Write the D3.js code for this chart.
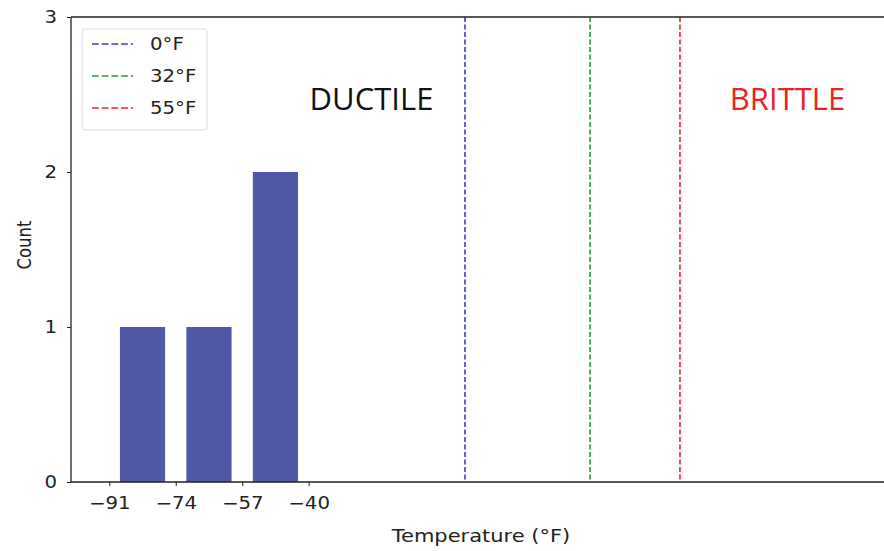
<!DOCTYPE html>
<html><head><meta charset="utf-8">
<script src="https://cdn.jsdelivr.net/npm/d3@7"></script>
<style>body{margin:0;background:#fff}svg{display:block}</style>
</head><body><svg id="c" width="884" height="551"></svg>
<script>
const binStarts = [-91, -74, -57];
const binWidth = 17;
const counts = [1, 1, 2];
const xTicks = [-91, -74, -57, -40];
const yTicks = [0, 1, 2, 3];
const refTemps = [0, 32, 55];
const refLabels = ["0°F", "32°F", "55°F"];
const refColors = ["#3b3bd6", "#2a9a2a", "#e8242f"];

const svg = d3.select("#c");
const L = 71, T = 17, B = 482;
const SX = 1.16, FS = 17;
const x = d3.scaleLinear().domain([-100.8, 0]).range([L, 465]);
const y = d3.scaleLinear().domain([0, 3]).range([B, T]);
const font = "DejaVu Sans, sans-serif";

// bars
const rw = 0.68;
svg.append("g").selectAll("rect").data(counts).join("rect")
  .attr("x", (d,i) => x(binStarts[i] + binWidth*(1-rw)/2))
  .attr("width", (d,i) => x(binStarts[i] + binWidth*(1+rw)/2) - x(binStarts[i] + binWidth*(1-rw)/2))
  .attr("y", d => y(d)).attr("height", d => y(0) - y(d))
  .attr("fill", "#5058a8");

// ref lines
svg.append("g").selectAll("line").data(refTemps).join("line")
  .attr("x1", d => x(d)).attr("x2", d => x(d))
  .attr("y1", T).attr("y2", B)
  .attr("stroke", (d,i) => refColors[i]).attr("stroke-width", 1.6)
  .attr("stroke-dasharray", "5,2.5");

// axes
const xa = svg.append("g").attr("transform", `translate(0,${B})`)
  .call(d3.axisBottom(x).tickValues(xTicks).tickFormat(d => d < 0 ? "\u2212" + Math.abs(d) : d).tickSize(4).tickPadding(11));
xa.select(".domain").attr("d", `M${L},0H900`).attr("stroke", "#222").attr("stroke-width", 1.3);
xa.selectAll(".tick text").attr("transform", `scale(${SX},1)`);
const ya = svg.append("g").attr("transform", `translate(${L},0)`)
  .call(d3.axisLeft(y).tickValues(yTicks).tickFormat(d3.format("d")).tickSize(4).tickPadding(6));
ya.select(".domain").attr("d", `M0,${B}V${T}`).attr("stroke", "#222").attr("stroke-width", 1.3);
ya.selectAll(".tick text").attr("x", -14 / SX).attr("transform", `scale(${SX},1)`);
svg.selectAll(".tick text").attr("font-family", font).attr("font-size", FS).attr("fill", "#222");
svg.selectAll(".tick line").attr("stroke", "#222");
// top border
svg.append("line").attr("x1", L).attr("x2", 900).attr("y1", T).attr("y2", T)
  .attr("stroke", "#222").attr("stroke-width", 1.3);

// axis labels
svg.append("text").attr("transform", `translate(481,542) scale(1.2,1)`).attr("text-anchor", "middle")
  .attr("font-family", font).attr("font-size", 17.5).attr("fill", "#222").text("Temperature (°F)");
svg.append("text").attr("transform", `translate(31,245) scale(1.15,1) rotate(-90)`).attr("text-anchor", "middle")
  .attr("font-family", font).attr("font-size", 16.5).attr("fill", "#222").text("Count");

// region labels
svg.append("text").attr("x", 371.5).attr("y", 110).attr("text-anchor", "middle")
  .attr("font-family", "Open Sans, sans-serif").attr("font-size", 31).attr("fill", "#111").text("DUCTILE");
svg.append("text").attr("x", 787.5).attr("y", 110).attr("text-anchor", "middle")
  .attr("font-family", "Open Sans, sans-serif").attr("font-size", 31).attr("fill", "#ee2222").text("BRITTLE");

// legend
const lg = svg.append("g");
lg.append("rect").attr("x", 82).attr("y", 29).attr("width", 125).attr("height", 101).attr("rx", 3)
  .attr("fill", "#fff").attr("stroke", "#ddd");
refLabels.forEach((t, i) => {
  const yy = 44 + i * 32;
  lg.append("line").attr("x1", 92).attr("x2", 133).attr("y1", yy).attr("y2", yy)
    .attr("stroke", refColors[i]).attr("stroke-width", 1.6).attr("stroke-dasharray", "6.8,2.9");
  lg.append("text").attr("transform", `translate(150,${yy + 6}) scale(${SX},1)`)
    .attr("font-family", font).attr("font-size", FS).attr("fill", "#222").text(t);
});
</script></body></html>
